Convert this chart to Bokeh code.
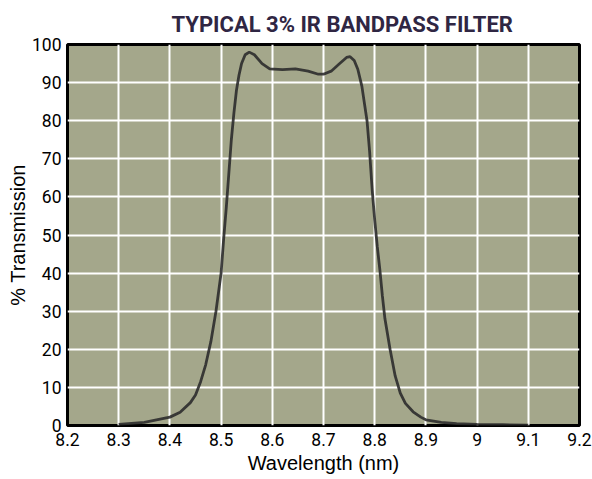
from bokeh.plotting import figure
from bokeh.models import Range1d, FixedTicker, Title
from bokeh.embed import file_html
from bokeh.resources import INLINE

wavelength = [8.30, 8.35, 8.40, 8.42, 8.44, 8.45, 8.46, 8.47, 8.48, 8.49, 8.50, 8.505,
              8.51, 8.515, 8.52, 8.525, 8.53, 8.535, 8.54, 8.547, 8.555, 8.565, 8.58,
              8.595, 8.62, 8.645, 8.67, 8.69, 8.70, 8.715, 8.73, 8.745, 8.752, 8.76,
              8.767, 8.775, 8.785, 8.79, 8.795, 8.80, 8.805, 8.81, 8.815, 8.82, 8.83,
              8.84, 8.85, 8.86, 8.875, 8.89, 8.90, 8.93, 8.96, 9.00, 9.05, 9.10]
transmission = [0.3, 0.8, 2.2, 3.5, 6, 8, 11.5, 16, 22, 30, 40, 49,
                57, 66, 75, 82, 88, 92, 95, 97.3, 98, 97.3, 95,
                93.6, 93.4, 93.6, 93, 92.2, 92.2, 93, 94.8, 96.6, 96.8, 95.8,
                93.5, 89, 80, 72, 62, 54, 47, 41, 34, 28, 20,
                13, 8.5, 5.8, 3.6, 2.2, 1.5, 0.8, 0.5, 0.3, 0.2, 0.1]

x_ticks = [8.2, 8.3, 8.4, 8.5, 8.6, 8.7, 8.8, 8.9, 9.0, 9.1, 9.2]
x_tick_labels = ["8.2", "8.3", "8.4", "8.5", "8.6", "8.7", "8.8", "8.9", "9", "9.1", "9.2"]
y_ticks = [0, 10, 20, 30, 40, 50, 60, 70, 80, 90, 100]

title_text = "TYPICAL 3% IR BANDPASS FILTER"

TICK_FONT = "Roboto"
LABEL_FONT = "Liberation Sans"

p = figure(frame_width=512, frame_height=381, output_backend="svg", toolbar_location=None,
           x_range=Range1d(8.2, 9.2), y_range=Range1d(0, 100),
           min_border_left=67, min_border_right=13, min_border_top=44, min_border_bottom=54)

p.title = Title(text=title_text, align="left", offset=104, standoff=16,
                text_font=TICK_FONT, text_font_size="22px", text_font_style="bold",
                text_color="#2f2643")

p.background_fill_color = "#a4a78b"
p.border_fill_color = "white"
p.outline_line_color = "black"
p.outline_line_width = 3

p.line(wavelength, transmission, line_color="#2c2c2c", line_width=2.8, line_alpha=0.9)

p.xaxis.ticker = FixedTicker(ticks=x_ticks)
p.xaxis.major_label_overrides = {t: l for t, l in zip(x_ticks, x_tick_labels)}
p.yaxis.ticker = FixedTicker(ticks=y_ticks)

for ax in (p.xaxis[0], p.yaxis[0]):
    ax.axis_line_color = None
    ax.major_tick_line_color = None
    ax.minor_tick_line_color = None
    ax.major_tick_in = 0
    ax.major_tick_out = 0
    ax.major_label_text_font = TICK_FONT
    ax.major_label_text_color = "black"
    ax.axis_label_text_font = LABEL_FONT
    ax.axis_label_text_font_size = "20px"
    ax.axis_label_text_font_style = "normal"
    ax.axis_label_text_color = "black"

p.xaxis.major_label_text_font_size = "17.5px"
p.yaxis.major_label_text_font_size = "17.5px"

p.xaxis.axis_label = "Wavelength (nm)"
p.yaxis.axis_label = "% Transmission"
p.xaxis.major_label_standoff = 7
p.xaxis.axis_label_standoff = 3
p.yaxis.major_label_standoff = 6
p.yaxis.axis_label_standoff = 0

p.xgrid.ticker = FixedTicker(ticks=x_ticks)
p.ygrid.ticker = FixedTicker(ticks=y_ticks)
p.grid.grid_line_color = "white"
p.grid.grid_line_width = 2
p.grid.grid_line_alpha = 1

open("out.html", "w").write(file_html(p, INLINE))
